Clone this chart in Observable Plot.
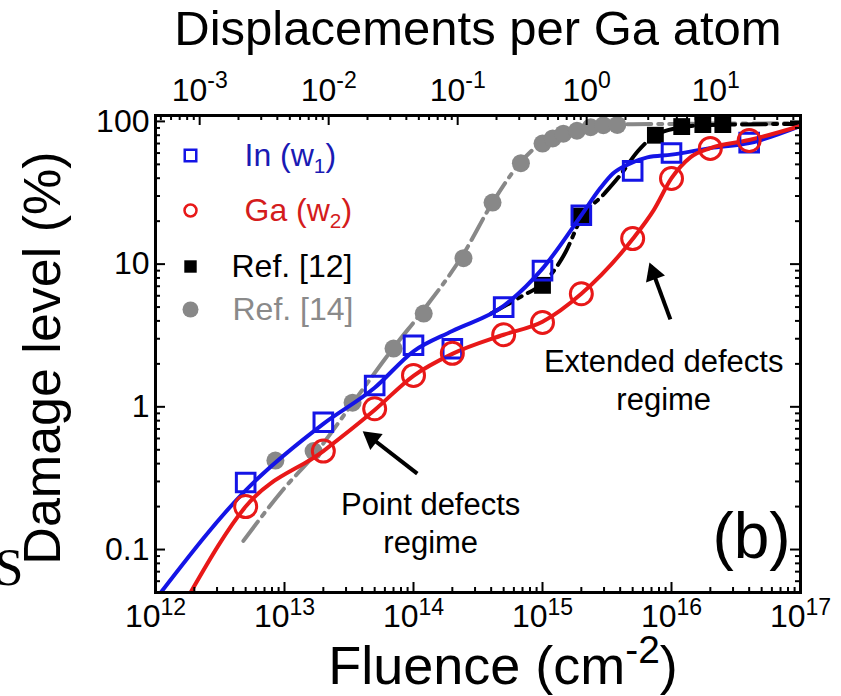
<!DOCTYPE html>
<html>
<head>
<meta charset="utf-8">
<script src="https://cdn.jsdelivr.net/npm/d3@7"></script>
<script src="https://cdn.jsdelivr.net/npm/@observablehq/plot@0.6"></script>
<style>
  html, body { margin: 0; padding: 0; background: #fff; }
  #chart { width: 841px; height: 696px; overflow: hidden; }
</style>
</head>
<body>
<div id="chart"></div>
<script>
// ---- Measured damage level (%) versus ion fluence (cm^-2) ----
const inFluence  = [5e12, 2e13, 5e13, 1e14, 2e14, 5e14, 1e15, 2e15, 5e15, 1e16, 4e16];
const inDamage   = [0.295, 0.78, 1.41, 2.7, 2.55, 5.0, 9.0, 22, 45, 60, 71];

const gaFluence  = [5e12, 2e13, 5e13, 1e14, 2e14, 5e14, 1e15, 2e15, 5e15, 1e16, 2e16, 4e16];
const gaDamage   = [0.20, 0.49, 0.97, 1.66, 2.37, 3.2, 3.9, 6.2, 15.1, 39.8, 64.7, 73.5];

const ref12Fluence = [1e15, 2e15, 7.5e15, 1.2e16, 1.75e16, 2.5e16];
const ref12Damage  = [7.1, 21.7, 80, 92, 95, 95];

const ref14Fluence = [8.5e12, 1.68e13, 3.37e13, 7e13, 1.2e14, 2.44e14, 4.1e14, 6.8e14, 1e15, 1.2e15, 1.45e15, 1.85e15, 2.36e15, 2.96e15, 3.8e15];
const ref14Damage  = [0.42, 0.49, 1.07, 2.56, 4.5, 11, 27, 51, 70, 76, 82, 86, 91, 94, 94.5];

// ---- Fitted curves ----
const inFitFluence = [1.1e12, 5e12, 2e13, 5e13, 1e14, 2e14, 5e14, 1e15, 2e15, 2.8e15, 3.5e15, 4.6e15, 6.5e15, 1e16, 2e16, 4e16, 1e17];
const inFitDamage  = [0.05, 0.26, 0.76, 1.36, 2.45, 3.4, 5.1, 9.3, 22, 34, 43, 50, 56, 58.5, 65, 70.5, 93];

const gaFitFluence = [1.87e12, 5e12, 2e13, 5e13, 1e14, 2e14, 5e14, 1e15, 2e15, 5e15, 7.3e15, 1e16, 1.4e16, 2e16, 4e16, 1e17];
const gaFitDamage  = [0.05, 0.2, 0.49, 0.95, 1.65, 2.35, 3.2, 3.95, 6.2, 15, 24, 40, 56, 65, 74, 93];

const ref12FitFluence = [4e14, 7e14, 1e15, 1.5e15, 2e15, 3e15, 4e15, 5.5e15, 7.5e15, 1.2e16, 2e16, 1e17];
const ref12FitDamage  = [4.5, 6.0, 7.3, 12, 21, 31, 42, 62, 80, 91, 94.5, 96];

const ref14FitFluence = [4.8e12, 1e13, 1.7e13, 3.4e13, 7e13, 1.2e14, 2.4e14, 4.1e14, 6.8e14, 1e15, 1.5e15, 2.5e15, 5e15, 1e17];
const ref14FitDamage  = [0.115, 0.27, 0.46, 1.07, 2.6, 4.8, 11.5, 27, 52, 72, 86, 93, 95.5, 97];

// ---- Axes ----
const fluenceTicks = [1e12, 1e13, 1e14, 1e15, 1e16, 1e17];
const dpaTicks     = [1e-3, 1e-2, 1e-1, 1, 10];
const damageTicks  = [0.1, 1, 10, 100];
const damageTickLabels = ["0.1", "1", "10", "100"];
const fluencePerDpa = 2.2e15;   // fluence giving one displacement per Ga atom

// ---- Legend and annotations ----
const legendLabels = ["In (w_{1})", "Ga (w_{2})", "Ref. [12]", "Ref. [14]"];
const regimeLabels = ["Point defects\nregime", "Extended defects\nregime"];
const regimeLabelFluence = [1.36e14, 8.7e15];
const regimeLabelDamage  = [0.157, 1.58];
const arrowFromFluence = [1.07e14, 9.8e15];
const arrowFromDamage  = [0.34, 4.1];
const arrowToFluence   = [4.25e13, 6.9e15];
const arrowToDamage    = [0.65, 9.7];
const panelLabel = "(b)";

// ---------------------------------------------------------------
const BLUE = "#1414e6", RED = "#e81818", GRAY = "#888888", BLACK = "#000";
const FONT = "'Liberation Sans', Arial, sans-serif";
const W = 841, H = 696, ML = 155, MR = 41, MT = 115, MB = 104;
const FW = W - ML - MR, FH = H - MT - MB;

const zip = (xs, ys) => xs.map((x, i) => ({x, y: ys[i]}));
const minors = (decades, lo, hi) =>
  decades.flatMap(d => d3.range(2, 10).map(k => k * d)).filter(v => v > lo && v < hi);

const xMinor = minors([1e12, 1e13, 1e14, 1e15, 1e16], 1e12, 1e17);
const yMinor = minors([0.01, 0.1, 1, 10], 0.05, 110);
const dpaMajorF = dpaTicks.map(d => d * fluencePerDpa);
const dpaMinorF = minors([1e-4, 1e-3, 1e-2, 1e-1, 1, 10], 1e12 / fluencePerDpa, 1e17 / fluencePerDpa)
  .map(d => d * fluencePerDpa);

const tickStyle = {stroke: BLACK, strokeWidth: 2};
const MAJ = 10, MIN = 5;

const legendStyles = [
  {symbol: "square", r: 6.5, stroke: BLUE, fill: "none", strokeWidth: 2.5, color: "#1a1ab4", tx: 89},
  {symbol: "circle", r: 6, stroke: RED, fill: "none", strokeWidth: 2.5, color: "#d41c1c", tx: 89},
  {symbol: "square", r: 7, stroke: "none", fill: BLACK, strokeWidth: 0, color: BLACK, tx: 76},
  {symbol: "circle", r: 8, stroke: "none", fill: GRAY, strokeWidth: 0, color: "#8a8a8a", tx: 77}
];
const legendRowDy = [40, 95, 151, 194];

const legendMarks = legendLabels.flatMap((label, i) => {
  const s = legendStyles[i];
  return [
    Plot.dot([label], {frameAnchor: "top-left", dx: 35, dy: legendRowDy[i], symbol: s.symbol, r: s.r,
      stroke: s.stroke, fill: s.fill, strokeWidth: s.strokeWidth}),
    Plot.text([label], {frameAnchor: "top-left", dx: s.tx, dy: legendRowDy[i], text: d => d,
      textAnchor: "start", lineAnchor: "middle", fontSize: 32, fill: s.color, fontFamily: FONT})
  ];
});

const arrows = arrowFromFluence.map((x1, i) => ({
  x1, y1: arrowFromDamage[i], x2: arrowToFluence[i], y2: arrowToDamage[i]
}));
const regimes = regimeLabels.map((t, i) => ({t, x: regimeLabelFluence[i], y: regimeLabelDamage[i]}));

// Solid arrowheads: a triangle at each arrow tip, turned along the shaft
const PX_PER_DECADE_X = FW / 5, PX_PER_DECADE_Y = FH / Math.log10(110 / 0.05);
const headMarks = arrows.map(a => {
  const vx = (Math.log10(a.x2) - Math.log10(a.x1)) * PX_PER_DECADE_X;
  const vy = -(Math.log10(a.y2) - Math.log10(a.y1)) * PX_PER_DECADE_Y;
  const len = Math.hypot(vx, vy), ux = vx / len, uy = vy / len;
  const back = 8;
  return Plot.dot([a], {x: "x2", y: "y2", symbol: "triangle", r: 7.5, fill: BLACK, stroke: "none",
    rotate: Math.atan2(ux, -uy) * 180 / Math.PI, dx: -ux * back, dy: -uy * back});
});

const fitLine = (xs, ys, stroke, dash) => Plot.line(zip(xs, ys), {
  x: "x", y: "y", stroke, strokeWidth: 4, curve: "monotone-x",
  strokeDasharray: dash, clip: true
});

const centered = {textAnchor: "middle", lineAnchor: "middle", fontFamily: FONT, fill: BLACK};

const chart = Plot.plot({
  width: W, height: H,
  marginLeft: ML, marginRight: MR, marginTop: MT, marginBottom: MB,
  style: {fontFamily: FONT, background: "#fff", color: BLACK, overflow: "visible"},
  x: {type: "log", domain: [1e12, 1e17]},
  y: {type: "log", domain: [0.05, 110]},
  marks: [
    // fitted curves and data
    fitLine(ref14FitFluence, ref14FitDamage, GRAY, "24,7,4,7"),
    Plot.dot(zip(ref14Fluence, ref14Damage), {x: "x", y: "y", r: 9, fill: GRAY}),
    fitLine(ref12FitFluence, ref12FitDamage, BLACK, "24,7,4,7"),
    Plot.dot(zip(ref12Fluence, ref12Damage), {x: "x", y: "y", symbol: "square", r: 9.5, fill: BLACK}),
    fitLine(inFitFluence, inFitDamage, BLUE),
    fitLine(gaFitFluence, gaFitDamage, RED),
    Plot.dot(zip(inFluence, inDamage), {x: "x", y: "y", symbol: "square", r: 10.5, stroke: BLUE, strokeWidth: 3, fill: "none"}),
    Plot.dot(zip(gaFluence, gaDamage), {x: "x", y: "y", r: 11, stroke: RED, strokeWidth: 3, fill: "none"}),

    // inward ticks on all four sides
    Plot.tickX(fluenceTicks, {x: d => d, insetTop: FH - MAJ, ...tickStyle}),
    Plot.tickX(xMinor, {x: d => d, insetTop: FH - MIN, ...tickStyle}),
    Plot.tickX(dpaMajorF, {x: d => d, insetBottom: FH - MAJ, ...tickStyle}),
    Plot.tickX(dpaMinorF, {x: d => d, insetBottom: FH - MIN, ...tickStyle}),
    Plot.tickY(damageTicks, {y: d => d, insetRight: FW - MAJ, ...tickStyle}),
    Plot.tickY(yMinor, {y: d => d, insetRight: FW - MIN, ...tickStyle}),
    Plot.tickY(damageTicks, {y: d => d, insetLeft: FW - MAJ, ...tickStyle}),
    Plot.tickY(yMinor, {y: d => d, insetLeft: FW - MIN, ...tickStyle}),
    Plot.frame({stroke: BLACK, strokeWidth: 3}),

    // tick labels
    Plot.axisX(fluenceTicks, {anchor: "bottom", tickSize: 0, tickPadding: 12, fontSize: 32, label: null,
      tickFormat: d => `10^{${Math.round(Math.log10(d))}}`}),
    Plot.text(dpaMajorF, {x: d => d, frameAnchor: "top", dy: -15, textAnchor: "middle", lineAnchor: "bottom",
      fontSize: 32, fontFamily: FONT, fill: BLACK,
      text: f => `10^{${Math.round(Math.log10(f / fluencePerDpa))}}`}),
    Plot.axisY(damageTicks, {anchor: "left", tickSize: 0, tickPadding: 6, fontSize: 32, label: null,
      tickFormat: d => damageTickLabels[damageTicks.indexOf(d)]}),

    // axis titles
    Plot.text(["Fluence (cm^{-2})"], {frameAnchor: "bottom", dy: 74, dx: 25, fontSize: 54, ...centered}),
    Plot.text(["Displacements per Ga atom"], {frameAnchor: "top", dy: -86, fontSize: 49, ...centered}),
    Plot.text(["Damage level (%)"], {frameAnchor: "left", dx: -112, dy: 4, rotate: -90, fontSize: 52, ...centered}),

    // legend
    ...legendMarks,

    // annotations
    Plot.link(arrows, {x1: "x1", y1: "y1", x2: "x2", y2: "y2", stroke: BLACK, strokeWidth: 4}),
    ...headMarks,
    Plot.text(regimes, {x: "x", y: "y", text: "t", fontSize: 31, lineHeight: 1.23, ...centered}),
    Plot.text([panelLabel], {frameAnchor: "bottom-right", dx: -49, dy: -55, fontSize: 64, ...centered}),
    Plot.text(["S"], {frameAnchor: "bottom-left", dx: -161, dy: -24, textAnchor: "start", lineAnchor: "middle",
      fontSize: 52, fill: BLACK, fontFamily: "'Liberation Serif', 'Times New Roman', serif"})
  ]
});

// Turn ^{..} and _{..} markup into raised / lowered tspans
function typesetScripts(svg) {
  const NS = "http://www.w3.org/2000/svg";
  const markup = /[_^]\{[^}]*\}/;
  Array.from(svg.querySelectorAll("text, tspan")).forEach(node => {
    if (node.children.length) return;
    const s = node.textContent;
    if (!markup.test(s)) return;
    node.textContent = "";
    let shift = 0;
    for (const part of s.split(/([_^]\{[^}]*\})/).filter(p => p)) {
      const m = part.match(/^([_^])\{([^}]*)\}$/);
      const t = document.createElementNS(NS, "tspan");
      if (m) {
        const sup = m[1] === "^";
        const scale = sup ? 0.72 : 0.65;
        const target = sup ? -0.38 : 0.24;
        t.setAttribute("font-size", `${scale * 100}%`);
        t.setAttribute("dy", ((target - shift) / scale).toFixed(3) + "em");
        shift = target;
        t.textContent = m[2];
      } else {
        if (shift !== 0) t.setAttribute("dy", (-shift).toFixed(3) + "em");
        shift = 0;
        t.textContent = part;
      }
      node.appendChild(t);
    }
  });
}
typesetScripts(chart);
document.getElementById("chart").appendChild(chart);
</script>
</body>
</html>
